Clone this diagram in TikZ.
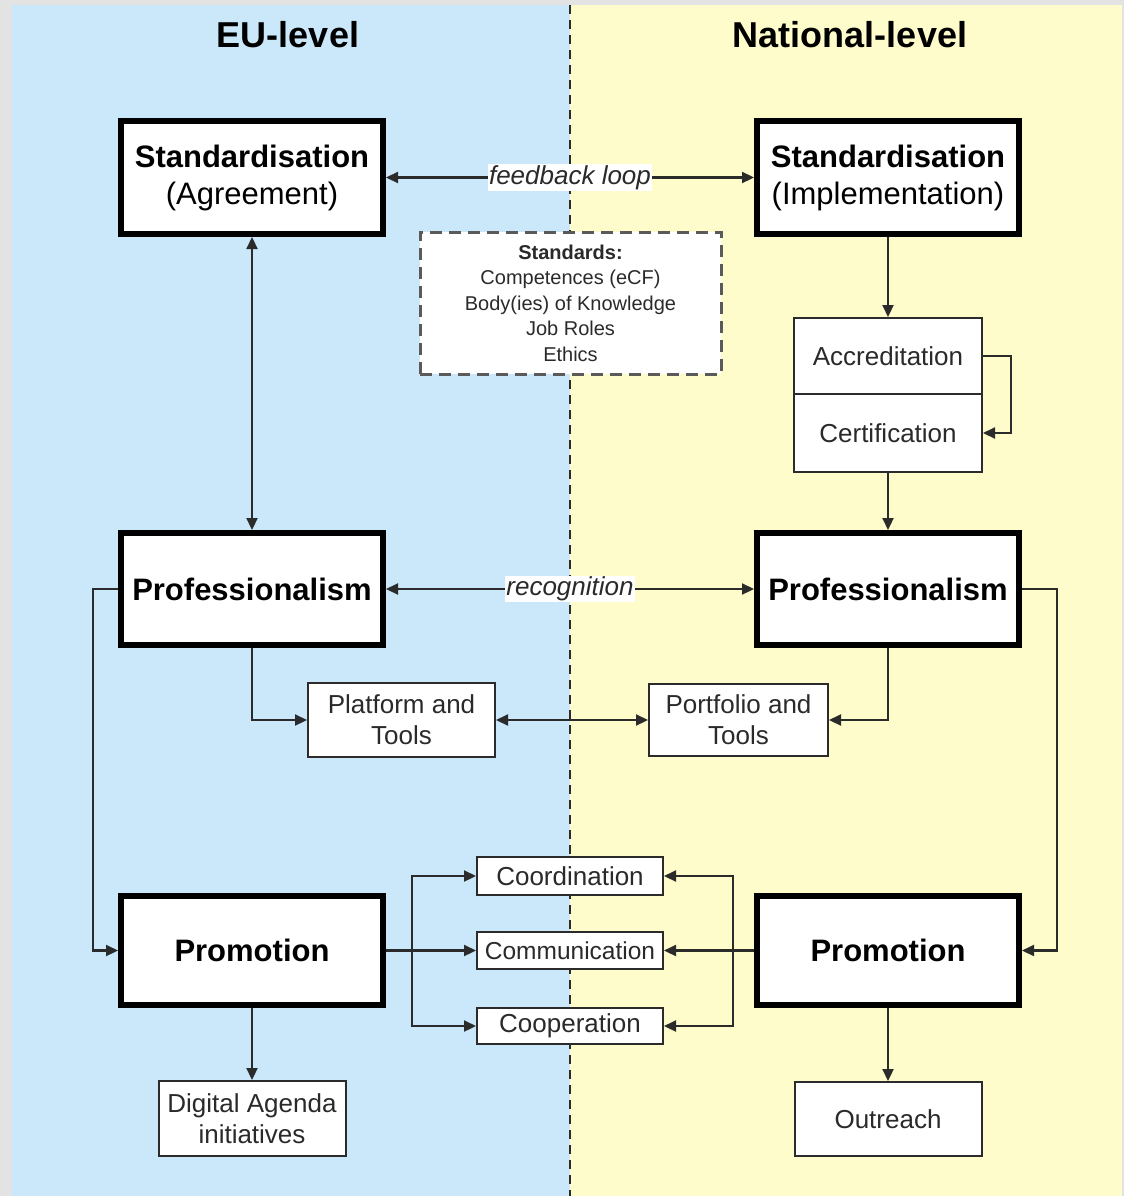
\documentclass[tikz,border=0pt]{standalone}
\usepackage{fontspec}
\setmainfont{Liberation Sans}
\usetikzlibrary{arrows.meta}
\definecolor{bgray}{HTML}{E3E3E3}
\definecolor{eublue}{HTML}{CBE8FB}
\definecolor{natyellow}{HTML}{FFFCCB}
\definecolor{txt}{HTML}{2A2A2A}
\definecolor{lin}{HTML}{2B2B2B}
\definecolor{dashgray}{HTML}{5A5A5A}
\begin{document}
\begin{tikzpicture}[x=1pt,y=-1pt,
  bigbox/.style={draw=black, line width=6pt, fill=white, minimum width=262pt, inner sep=0pt, font=\fontsize{31}{37}\selectfont, align=center, text=black},
  smallbox/.style={draw=lin, line width=2pt, fill=white, inner sep=0pt, font=\fontsize{26}{31}\selectfont, align=center, text=txt},
  conn/.style={draw=lin, line width=2.2pt, -{Triangle[length=12pt,width=11pt]}},
  dconn/.style={draw=lin, line width=2.2pt, {Triangle[length=12pt,width=11pt]}-{Triangle[length=12pt,width=11pt]}},
  lbl/.style={fill=white, inner sep=1pt, font=\fontsize{26}{30}\selectfont\itshape, text=txt},
  paneltitle/.style={font=\fontsize{36}{40}\selectfont\bfseries, text=black}
]
\useasboundingbox (0,0) rectangle (1124,1196);
% background
\fill[bgray] (0,0) rectangle (1124,1196);
\fill[eublue] (12,5) rectangle (570,1196);
\fill[natyellow] (570,5) rectangle (1122,1196);
\draw[lin, line width=2pt, dash pattern=on 9pt off 6pt] (570,5) -- (570,1196);

% titles
\node[paneltitle] (teu) at (288,35) {EU-level};
\node[paneltitle] (tnat) at (850,35) {National-level};

% big boxes
\node[bigbox, minimum height=113pt] (sa) at (252,177.5) {\textbf{Standardisation}\\(Agreement)};
\node[bigbox, minimum height=113pt] (si) at (888,177.5) {\textbf{Standardisation}\\(Implementation)};
\node[bigbox, minimum height=112pt] (pl) at (252,589) {\textbf{Professionalism}};
\node[bigbox, minimum height=112pt] (pr) at (888,589) {\textbf{Professionalism}};
\node[bigbox, minimum height=109pt] (pml) at (252,950.5) {\textbf{Promotion}};
\node[bigbox, minimum height=109pt] (pmr) at (888,950.5) {\textbf{Promotion}};

% standards box
\node[draw=dashgray, line width=3pt, dash pattern=on 12pt off 7pt, fill=white, minimum width=301pt, minimum height=142pt, inner sep=0pt, align=center, text=txt, font=\fontsize{20}{25.5}\selectfont] (std) at (570.5,303)
  {\textbf{Standards:}\\Competences (eCF)\\Body(ies) of Knowledge\\Job Roles\\Ethics};

% small boxes
\node[smallbox, minimum width=188pt, minimum height=76pt] (acc) at (888,356) {Accreditation};
\node[smallbox, minimum width=188pt, minimum height=78pt] (cert) at (888,433) {Certification};
\node[smallbox, minimum width=187pt, minimum height=74pt] (plat) at (401.5,720) {Platform and\\Tools};
\node[smallbox, minimum width=179pt, minimum height=72pt] (port) at (738.5,720) {Portfolio and\\Tools};
\node[smallbox, minimum width=186pt, minimum height=38pt] (coord) at (570,876) {Coordination};
\node[smallbox, minimum width=186pt, minimum height=37pt, font=\fontsize{24.5}{29}\selectfont] (comm) at (570,950.5) {Communication};
\node[smallbox, minimum width=186pt, minimum height=36pt] (coop) at (570,1026) {Cooperation};
\node[smallbox, minimum width=187pt, minimum height=75pt] (da) at (252,1118.5) {Digital Agenda\\initiatives};
\node[smallbox, minimum width=187pt, minimum height=74pt] (outr) at (888,1119) {Outreach};

% connectors
\draw[dconn] (sa.east) -- (si.west) node[lbl, midway] {feedback loop};
\draw[dconn] (pl.east) -- (pr.west) node[lbl, midway] {recognition};
\draw[dconn] (sa.south) -- (pl.north);
\draw[conn] (si.south) -- (acc.north);
\draw[conn] (acc.east) -- ++(28,0) |- (cert.east);
\draw[conn] (cert.south) -- (pr.north);
\draw[conn] (pl.south) |- (plat.west);
\draw[conn] (pr.south) |- (port.east);
\draw[dconn] (plat.east) -- (port.west);
\draw[conn] (pl.west) -- ++(-25,0) |- (pml.west);
\draw[conn] (pr.east) -- ++(35,0) |- (pmr.east);
\coordinate (jl) at (412,950.5);
\coordinate (jr) at (733,950.5);
\draw[conn] (pml.east) -- (comm.west);
\draw[conn] (jl) |- (coord.west);
\draw[conn] (jl) |- (coop.west);
\draw[conn] (pmr.west) -- (comm.east);
\draw[conn] (jr) |- (coord.east);
\draw[conn] (jr) |- (coop.east);
\draw[conn] (pml.south) -- (da.north);
\draw[conn] (pmr.south) -- (outr.north);
\end{tikzpicture}
\end{document}
